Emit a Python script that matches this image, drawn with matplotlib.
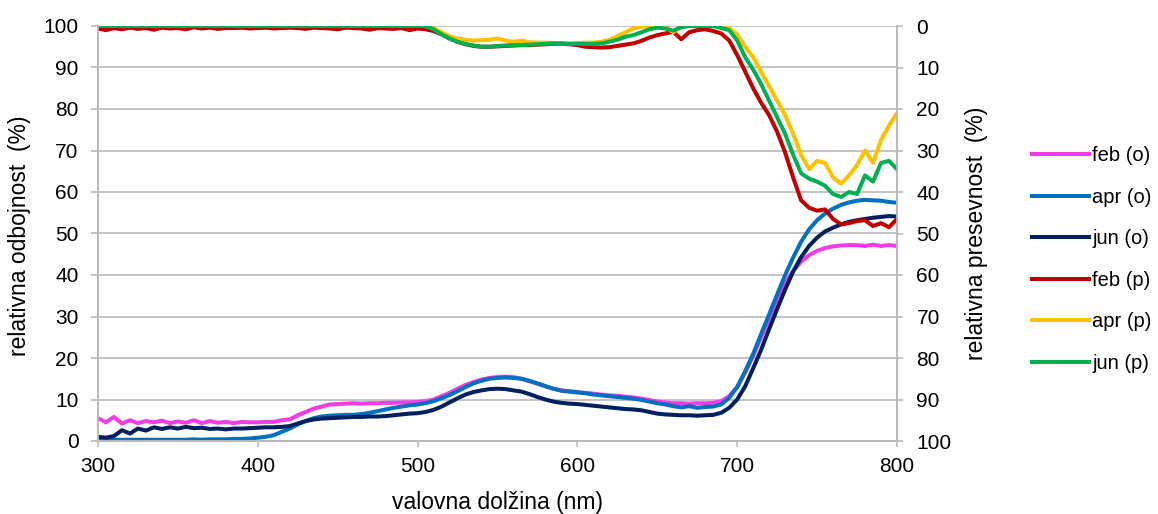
import numpy as np
import matplotlib
matplotlib.use("Agg")
import matplotlib.pyplot as plt

plt.rcParams['font.family'] = ['Liberation Sans', 'DejaVu Sans']

wavelength = list(range(300, 805, 5))

feb_o = [5.5, 4.5, 5.8, 4.2, 5.0, 4.3, 4.8, 4.5, 4.9, 4.3, 4.7, 4.4, 5.0, 4.3, 4.8, 4.4, 4.6, 4.3, 4.6, 4.5,
         4.5, 4.6, 4.6, 5.0, 5.2, 6.2, 7.0, 7.8, 8.3, 8.8, 8.9, 9.0, 9.1, 9.0, 9.1, 9.1, 9.2, 9.2, 9.3, 9.3,
         9.4, 9.6, 10.0, 10.8, 11.6, 12.6, 13.5, 14.2, 14.8, 15.2, 15.4, 15.5, 15.4, 15.0, 14.4, 13.8, 13.2, 12.6, 12.2, 12.0,
         11.8, 11.6, 11.4, 11.2, 11.0, 10.9, 10.7, 10.5, 10.2, 9.9, 9.5, 9.3, 9.1, 9.1, 9.0, 9.1, 9.1, 9.2, 9.6, 10.8,
         13.0, 16.5, 20.5, 25.0, 29.5, 34.0, 38.0, 41.0, 43.2, 44.8, 45.8, 46.5, 46.9, 47.1, 47.2, 47.2, 47.0, 47.3, 47.0, 47.2,
         47.0]

apr_o = [0.4, 0.3, 0.3, 0.3, 0.3, 0.3, 0.3, 0.3, 0.3, 0.3, 0.3, 0.3, 0.4, 0.3, 0.4, 0.4, 0.4, 0.5, 0.5, 0.6,
         0.8, 1.0, 1.4, 2.2, 3.0, 4.0, 4.8, 5.5, 5.9, 6.1, 6.2, 6.3, 6.3, 6.5, 6.8, 7.2, 7.6, 8.0, 8.3, 8.6,
         8.8, 9.1, 9.6, 10.3, 11.1, 12.0, 13.0, 13.9, 14.5, 15.0, 15.2, 15.3, 15.2, 15.0, 14.5, 13.9, 13.2, 12.6, 12.1, 11.9,
         11.7, 11.5, 11.2, 11.0, 10.8, 10.6, 10.4, 10.2, 9.9, 9.5, 9.1, 8.8, 8.4, 8.1, 8.4, 8.0, 8.2, 8.3, 8.8, 10.4,
         13.0, 16.8, 21.0, 25.8, 30.5, 35.3, 40.0, 44.2, 48.0, 51.0, 53.2, 54.8, 56.0, 56.9, 57.5, 57.9, 58.1, 58.0, 57.9, 57.6,
         57.4]

jun_o = [1.0, 0.8, 1.2, 2.6, 1.8, 3.0, 2.5, 3.3, 2.9, 3.3, 3.0, 3.4, 3.1, 3.2, 2.9, 3.0, 2.8, 3.0, 3.0, 3.1,
         3.2, 3.3, 3.3, 3.4, 3.6, 4.2, 4.8, 5.2, 5.4, 5.5, 5.6, 5.7, 5.8, 5.8, 5.9, 5.9, 6.0, 6.2, 6.4, 6.6,
         6.7, 7.0, 7.5, 8.3, 9.3, 10.3, 11.2, 11.8, 12.2, 12.5, 12.6, 12.5, 12.2, 11.9, 11.3, 10.6, 10.0, 9.5, 9.2, 9.0,
         8.9, 8.7, 8.5, 8.3, 8.1, 7.9, 7.7, 7.6, 7.4, 7.0, 6.6, 6.4, 6.3, 6.2, 6.2, 6.1, 6.2, 6.3, 6.8, 8.0,
         10.0, 13.2, 17.5, 22.0, 27.0, 31.8, 36.5, 40.8, 44.3, 47.0, 49.0, 50.5, 51.4, 52.2, 52.8, 53.2, 53.5, 53.8, 54.0, 54.2,
         54.1]

feb_p = [0.6, 1.0, 0.5, 0.8, 0.4, 0.7, 0.5, 0.9, 0.4, 0.6, 0.5, 0.8, 0.3, 0.6, 0.4, 0.7, 0.5, 0.5, 0.4, 0.6,
         0.5, 0.4, 0.6, 0.5, 0.4, 0.5, 0.7, 0.4, 0.5, 0.6, 0.8, 0.4, 0.5, 0.6, 0.9, 0.5, 0.6, 0.7, 0.5, 1.0,
         0.6, 0.8, 1.2, 2.0, 3.0, 3.8, 4.4, 4.8, 5.0, 5.0, 4.9, 4.8, 4.7, 4.6, 4.6, 4.5, 4.4, 4.3, 4.3, 4.4,
         4.6, 5.0, 5.1, 5.2, 5.1, 4.8, 4.5, 4.2, 3.6, 2.8, 2.2, 1.8, 1.4, 3.2, 1.5, 1.0, 0.8, 1.2, 1.8, 3.5,
         7.0, 11.0, 15.0, 18.5, 21.5, 25.5, 30.5, 36.5, 42.0, 43.8, 44.5, 44.2, 46.5, 47.8, 47.5, 47.0, 46.8, 48.2, 47.5, 48.5,
         46.5]

apr_p = [0.0, 0.0, 0.0, 0.0, 0.0, 0.0, 0.0, 0.0, 0.0, 0.0, 0.0, 0.0, 0.0, 0.0, 0.0, 0.0, 0.0, 0.0, 0.0, 0.0,
         0.0, 0.0, 0.0, 0.0, 0.0, 0.0, 0.0, 0.0, 0.0, 0.0, 0.0, 0.0, 0.0, 0.0, 0.0, 0.0, 0.0, 0.0, 0.0, 0.0,
         0.0, 0.0, 0.5, 1.5, 2.5, 3.0, 3.3, 3.5, 3.4, 3.3, 3.0, 3.5, 3.8, 3.5, 3.9, 4.0, 4.0, 4.1, 4.2, 4.2,
         4.1, 4.0, 4.0, 3.8, 3.3, 2.5, 1.5, 0.6, 0.2, 0.0, 0.0, 0.3, 1.5, 0.0, 0.0, 0.0, 0.0, 0.0, 0.0, 0.5,
         2.0, 5.0, 7.5, 11.0, 14.5, 18.0, 21.5, 26.0, 31.0, 34.5, 32.5, 33.0, 36.5, 38.0, 36.0, 33.5, 30.0, 33.0, 27.5, 24.0,
         21.0]

jun_p = [0.0, 0.0, 0.0, 0.0, 0.0, 0.0, 0.0, 0.0, 0.0, 0.0, 0.0, 0.0, 0.0, 0.0, 0.0, 0.0, 0.0, 0.0, 0.0, 0.0,
         0.0, 0.0, 0.0, 0.0, 0.0, 0.0, 0.0, 0.0, 0.0, 0.0, 0.0, 0.0, 0.0, 0.0, 0.0, 0.0, 0.0, 0.0, 0.0, 0.0,
         0.0, 0.0, 0.8, 2.0, 3.0, 3.8, 4.3, 4.7, 5.0, 5.0, 4.8, 4.7, 4.6, 4.6, 4.5, 4.4, 4.3, 4.2, 4.2, 4.3,
         4.3, 4.3, 4.3, 4.2, 3.8, 3.3, 2.6, 2.2, 1.5, 0.8, 0.4, 0.6, 1.1, 0.3, 0.0, 0.0, 0.0, 0.0, 0.5, 1.0,
         3.5, 7.5, 10.5, 14.0, 18.0, 22.0, 26.0, 31.0, 35.5, 36.8, 37.5, 38.5, 40.5, 41.2, 40.0, 40.5, 36.0, 37.5, 33.0, 32.5,
         34.5]

labels_o = ["feb (o)", "apr (o)", "jun (o)"]
labels_p = ["feb (p)", "apr (p)", "jun (p)"]
colors_o = ["#F53BE6", "#0070C0", "#002060"]
colors_p = ["#C00000", "#FFC000", "#00B050"]

W, H = 1158, 514
fig = plt.figure(figsize=(W / 100, H / 100), dpi=100)
ax = fig.add_axes([98 / W, 1 - 441 / H, (897 - 98) / W, (441 - 26) / H])
ax2 = ax.twinx()

lw = 2.9
handles = []
for ys, lab, c in zip([feb_o, apr_o, jun_o], labels_o, colors_o):
    h, = ax.plot(wavelength, ys, color=c, lw=lw, label=lab, solid_joinstyle='round')
    handles.append(h)
for ys, lab, c in zip([feb_p, apr_p, jun_p], labels_p, colors_p):
    h, = ax2.plot(wavelength, ys, color=c, lw=lw, label=lab, solid_joinstyle='round')
    handles.append(h)

grid_c = "#B9B9B9"
ax.set_xlim(300, 800)
ax.set_ylim(0, 100)
ax2.set_ylim(100, 0)
ax.set_xticks([300, 400, 500, 600, 700, 800])
ax.set_yticks(range(0, 101, 10))
ax2.set_yticks(range(0, 101, 10))
ax.yaxis.grid(True, color=grid_c, lw=1.2)
ax.set_axisbelow(True)

tick_fs = 15
for a in (ax, ax2):
    for s in a.spines.values():
        s.set_color(grid_c)
        s.set_linewidth(1.2)
    a.spines['top'].set_visible(False)
    a.tick_params(colors=grid_c, labelcolor="#000000", labelsize=tick_fs, width=1.2)
ax.tick_params(axis='x', length=4.5, pad=7)
ax.tick_params(axis='y', length=5, pad=9)
ax2.tick_params(axis='y', length=4, pad=10)

lab_fs = 16.5
fig.text(497.5 / W, 1 - 503 / H, "valovna dolžina (nm)", fontsize=lab_fs, ha='center', va='center')
fig.text(20 / W, 1 - 236 / H, "relativna odbojnost  (%)", fontsize=lab_fs, ha='center', va='center', rotation=90)
fig.text(977 / W, 1 - 233 / H, "relativna presevnost  (%)", fontsize=lab_fs, ha='center', va='center', rotation=90)

fig.legend(handles=handles, labels=labels_o + labels_p, loc='upper left',
           bbox_to_anchor=(1032 / W, 1 - 146 / H), frameon=False, fontsize=14.5,
           handlelength=2.85, handletextpad=0.15, labelspacing=1.12, borderpad=0, borderaxespad=0)

fig.savefig("out.png", dpi=100)
